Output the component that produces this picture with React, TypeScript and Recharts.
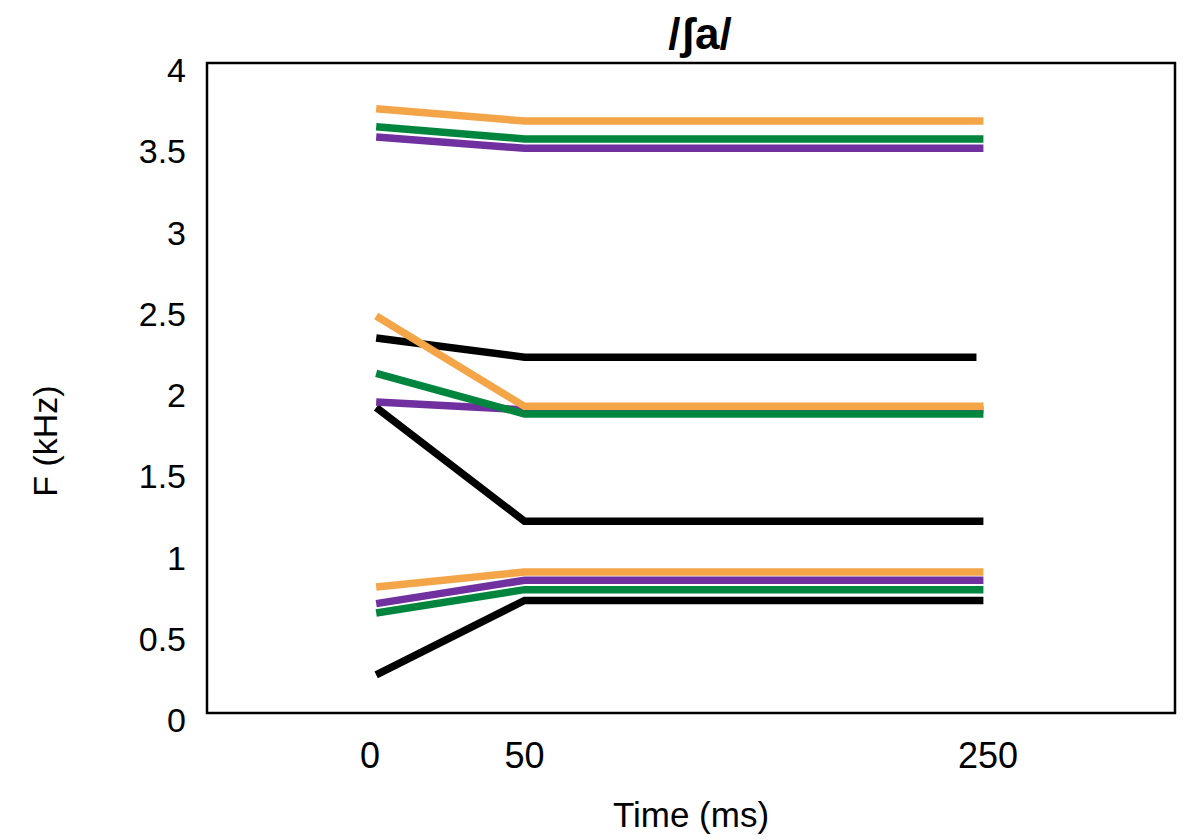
import React from 'react';
import { LineChart, Line, XAxis, YAxis, ReferenceArea } from 'recharts';

// Time points (ms) of each formant track: onset, end of transition, end of vowel
const times = [2, 50, 248];
const blackF3Times = [2, 50, 245];

// X tick labels (ms)
const xTickLabels = [0, 50, 250];
// Y tick labels (kHz)
const yTicks = [0, 0.5, 1, 1.5, 2, 2.5, 3, 3.5, 4];

// Formant frequencies (kHz)
const blackF1 = [0.234, 0.693, 0.693];
const blackF2 = [1.88, 1.18, 1.18];
const blackF3 = [2.308, 2.19, 2.19];

const greenF1 = [0.615, 0.759, 0.759];
const greenF2 = [2.09, 1.84, 1.84];
const greenF3 = [3.608, 3.533, 3.533];

const purpleF1 = [0.673, 0.817, 0.817];
const purpleF2 = [1.914, 1.866, 1.866];
const purpleF3 = [3.545, 3.475, 3.475];

const orangeF1 = [0.775, 0.868, 0.868];
const orangeF2 = [2.443, 1.887, 1.887];
const orangeF3 = [3.718, 3.643, 3.643];

const BLACK = '#000000';
const GREEN = '#00853E';
const PURPLE = '#7030A0';
const ORANGE = '#F4A548';

// The time axis is drawn piecewise: 0–50 ms takes one unit, 50–250 ms takes three.
const warp = (t: number) => (t <= 50 ? t / 50 : 1 + ((t - 50) * 3) / 200);

const makeTrack = (ts: number[], vs: number[]) => ts.map((t, i) => ({ x: warp(t), f: vs[i] }));

const series = [
  { key: 'bF1', color: BLACK, data: makeTrack(times, blackF1) },
  { key: 'bF2', color: BLACK, data: makeTrack(times, blackF2) },
  { key: 'bF3', color: BLACK, data: makeTrack(blackF3Times, blackF3) },
  { key: 'pF1', color: PURPLE, data: makeTrack(times, purpleF1) },
  { key: 'pF2', color: PURPLE, data: makeTrack(times, purpleF2) },
  { key: 'pF3', color: PURPLE, data: makeTrack(times, purpleF3) },
  { key: 'gF1', color: GREEN, data: makeTrack(times, greenF1) },
  { key: 'gF2', color: GREEN, data: makeTrack(times, greenF2) },
  { key: 'gF3', color: GREEN, data: makeTrack(times, greenF3) },
  { key: 'oF1', color: ORANGE, data: makeTrack(times, orangeF1) },
  { key: 'oF2', color: ORANGE, data: makeTrack(times, orangeF2) },
  { key: 'oF3', color: ORANGE, data: makeTrack(times, orangeF3) },
];

const FONT = '"Liberation Sans", Arial, sans-serif';
const xDomain: [number, number] = [-1.055, 5.21];
const xTicks = xTickLabels.map(warp);

const XTick = (props: any) => {
  const { x, y, payload } = props;
  const idx = xTicks.findIndex((v) => Math.abs(v - payload.value) < 1e-6);
  const label = idx >= 0 ? String(xTickLabels[idx]) : '';
  return (
    <text x={x} y={y + 42} textAnchor="middle" dominantBaseline="central" fontSize={36} fontFamily={FONT} fill="#000">
      {label}
    </text>
  );
};

const YTick = (props: any) => {
  const { x, y, payload } = props;
  return (
    <text x={x} y={y + 7} textAnchor="end" dominantBaseline="central" fontSize={34} fontFamily={FONT} fill="#000">
      {String(payload.value)}
    </text>
  );
};

const XLabel = (props: any) => {
  const vb = props.viewBox || {};
  const cx = vb.x + vb.width / 2;
  return (
    <text x={cx} y={vb.y + 114} textAnchor="middle" fontSize={35} fontFamily={FONT} fill="#000">
      Time (ms)
    </text>
  );
};

const YLabel = () => {
  const cx = 57;
  const cy = 441;
  return (
    <text
      x={cx}
      y={cy}
      transform={`rotate(-90, ${cx}, ${cy})`}
      textAnchor="middle"
      fontSize={34}
      fontFamily={FONT}
      fill="#000"
    >
      F (kHz)
    </text>
  );
};

export default function App() {
  return (
    <div style={{ position: 'absolute', left: 0, top: 0, width: 1184, height: 840, background: '#fff' }}>
      <div
        style={{
          position: 'absolute',
          left: 600,
          width: 200,
          top: 10,
          lineHeight: '48px',
          textAlign: 'center',
          fontFamily: FONT,
          fontSize: 44,
          fontWeight: 'bold',
          color: '#000',
        }}
      >
        /ʃa/
      </div>
      <LineChart width={1184} height={840} margin={{ top: 63, right: 9, bottom: 0, left: 0 }}>
        <XAxis
          type="number"
          dataKey="x"
          domain={xDomain}
          allowDataOverflow
          ticks={xTicks}
          tick={<XTick />}
          tickLine={false}
          axisLine={false}
          tickSize={0}
          tickMargin={0}
          height={127}
          interval={0}
          label={<XLabel />}
        />
        <YAxis
          type="number"
          domain={[0, 4]}
          ticks={yTicks}
          tick={<YTick />}
          tickLine={false}
          axisLine={false}
          tickSize={0}
          tickMargin={21}
          width={207}
          interval={0}
          label={<YLabel />}
        />
        <ReferenceArea
          x1={xDomain[0]}
          x2={xDomain[1]}
          y1={0}
          y2={4}
          fill="none"
          fillOpacity={0}
          stroke="#000"
          strokeWidth={2.5}
          ifOverflow="visible"
        />
        {series.map((s) => (
          <Line
            key={s.key}
            data={s.data}
            dataKey="f"
            type="linear"
            stroke={s.color}
            strokeWidth={7.5}
            strokeLinejoin="miter"
            strokeLinecap="butt"
            dot={false}
            activeDot={false}
            isAnimationActive={false}
          />
        ))}
      </LineChart>
    </div>
  );
}
